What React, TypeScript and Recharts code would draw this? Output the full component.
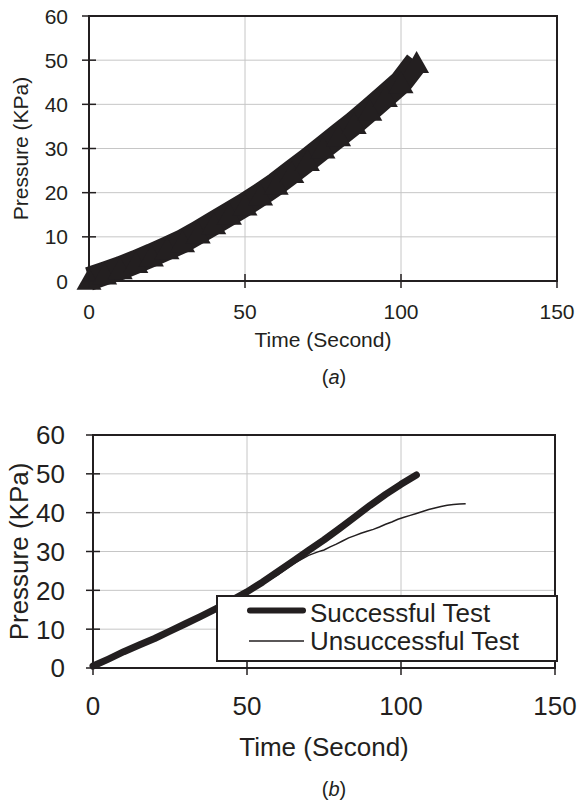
import React from 'react';
import { LineChart, Line, XAxis, YAxis, CartesianGrid, ReferenceArea, Legend, Label } from 'recharts';

const INK = '#231f20';
const GRID = '#c6c6c6';
const FONT = '"Liberation Sans", Arial, Helvetica, sans-serif';

// shared axes
const xTicks = [0, 50, 100, 150];
const yTicks = [0, 10, 20, 30, 40, 50, 60];
const xTitle = 'Time (Second)';
const yTitle = 'Pressure (KPa)';
const captions = ['a', 'b'];

// chart (a): pressure vs time, triangle markers
const timeA = [0, 5, 10, 15, 20, 25, 30, 35, 40, 45, 50, 55, 60, 65, 70, 75, 80, 85, 90, 95, 100, 105];
const pressureA = [0.5, 1.7, 2.9, 4.3, 5.8, 7.4, 9.0, 11.0, 13.1, 15.2, 17.3, 19.6, 22.0, 24.7, 27.4, 30.2, 33.0, 35.8, 38.8, 41.9, 45.0, 49.6];

// chart (b): successful test
const timeSuccess = [0, 5, 10, 15, 20, 25, 30, 35, 40, 45, 50, 55, 60, 65, 70, 75, 80, 85, 90, 95, 100, 105];
const pressureSuccess = [0.5, 2.3, 4.2, 5.9, 7.6, 9.5, 11.4, 13.3, 15.3, 17.4, 19.6, 22.1, 24.8, 27.5, 30.3, 33.0, 35.9, 38.9, 41.9, 44.7, 47.3, 49.7];

// chart (b): unsuccessful test
const timeFail = [0, 5, 10, 15, 20, 25, 30, 35, 40, 45, 50, 55, 60, 65, 70, 73, 75, 77, 79, 81, 83, 85, 87, 89, 91, 93, 95, 97, 99, 101, 103, 105, 107, 109, 111, 113, 115, 117, 119, 121];
const pressureFail = [0.3, 1.9, 3.8, 5.5, 7.3, 9.1, 11.0, 12.9, 14.9, 17.0, 19.2, 21.6, 24.0, 26.8, 29.0, 29.9, 30.4, 31.2, 31.9, 32.7, 33.5, 34.1, 34.7, 35.2, 35.7, 36.3, 37.0, 37.6, 38.3, 38.8, 39.3, 39.8, 40.3, 40.8, 41.2, 41.6, 41.9, 42.1, 42.2, 42.3];

const seriesNames = ['Successful Test', 'Unsuccessful Test'];

const dataA = timeA.map((t, i) => ({ t, p: pressureA[i] }));
const dataSuccess = timeSuccess.map((t, i) => ({ t, p: pressureSuccess[i] }));
const dataFail = timeFail.map((t, i) => ({ t, p: pressureFail[i] }));

const TICK = 7;

const makeYTick = (margin: number, fontSize: number) => (props: any) => {
  const { x, y, payload } = props;
  const ax = x + TICK + margin;
  return (
    <g>
      <line x1={ax - TICK} x2={ax + TICK} y1={y} y2={y} stroke={INK} strokeWidth={1.5} />
      <text x={x} y={y} dy="0.36em" textAnchor="end" fontSize={fontSize} fontFamily={FONT} fill={INK}>
        {payload.value}
      </text>
    </g>
  );
};

const makeXTick = (margin: number, fontSize: number) => (props: any) => {
  const { x, y, payload } = props;
  const ay = y - TICK - margin;
  return (
    <g>
      <line x1={x} x2={x} y1={ay - TICK} y2={ay + TICK} stroke={INK} strokeWidth={1.5} />
      <text x={x} y={y} dy="0.72em" textAnchor="middle" fontSize={fontSize} fontFamily={FONT} fill={INK}>
        {payload.value}
      </text>
    </g>
  );
};

const makeYLabel = (bx: number, fontSize: number) => (props: any) => {
  const vb = props.viewBox || { x: 0, y: 0, width: 0, height: 0 };
  const cy = vb.y + vb.height / 2;
  return (
    <text
      x={bx}
      y={cy}
      transform={`rotate(-90 ${bx} ${cy})`}
      textAnchor="middle"
      fontSize={fontSize}
      fontFamily={FONT}
      fill={INK}
    >
      {yTitle}
    </text>
  );
};

const makeXLabel = (dist: number, fontSize: number) => (props: any) => {
  const vb = props.viewBox || { x: 0, y: 0, width: 0, height: 0 };
  return (
    <text x={vb.x + vb.width / 2} y={vb.y + dist} textAnchor="middle" fontSize={fontSize} fontFamily={FONT} fill={INK}>
      {xTitle}
    </text>
  );
};

const TriangleDot = (props: any) => {
  const { cx, cy } = props;
  if (cx == null || cy == null) return <g />;
  const w = 25;
  const h = 22;
  return (
    <polygon
      points={`${cx},${cy - h / 2} ${cx - w / 2},${cy + h / 2} ${cx + w / 2},${cy + h / 2}`}
      fill={INK}
      stroke="none"
    />
  );
};

const LegendBox = () => (
  <svg width={342} height={67} style={{ display: 'block' }}>
    <rect x={1} y={1} width={340} height={65} fill="#ffffff" stroke={INK} strokeWidth={2} />
    <line x1={34} x2={87} y1={15.5} y2={15.5} stroke={INK} strokeWidth={6} strokeLinecap="round" />
    <text x={94} y={27} fontSize={26} fontFamily={FONT} fill={INK}>
      {seriesNames[0]}
    </text>
    <line x1={33} x2={88} y1={46} y2={46} stroke={INK} strokeWidth={1.5} />
    <text x={94} y={55} fontSize={26} fontFamily={FONT} fill={INK}>
      {seriesNames[1]}
    </text>
  </svg>
);

export default function App() {
  return (
    <div style={{ position: 'absolute', left: 0, top: 0, width: 577, height: 804, background: '#fff' }}>
      <div style={{ position: 'absolute', left: 0, top: 0 }}>
        <LineChart width={577} height={400} margin={{ top: 16, right: 20, bottom: 49, left: 0 }}>
          <CartesianGrid stroke={GRID} strokeWidth={1} />
          <XAxis
            dataKey="t"
            type="number"
            domain={[0, 150]}
            ticks={xTicks}
            height={70}
            tickSize={TICK}
            tickMargin={16}
            tickLine={false}
            axisLine={{ stroke: INK, strokeWidth: 2 }}
            tick={makeXTick(16, 21)}
            interval={0}
          >
            <Label content={makeXLabel(66, 21)} />
          </XAxis>
          <YAxis
            type="number"
            domain={[0, 60]}
            ticks={yTicks}
            width={89}
            tickSize={TICK}
            tickMargin={14}
            tickLine={false}
            axisLine={{ stroke: INK, strokeWidth: 2 }}
            tick={makeYTick(14, 21)}
            interval={0}
          >
            <Label content={makeYLabel(28, 21)} />
          </YAxis>
          <ReferenceArea x1={0} x2={150} y1={0} y2={60} fill="none" stroke={INK} strokeWidth={2} ifOverflow="visible" />
          <Line
            data={dataA}
            dataKey="p"
            type="linear"
            stroke={INK}
            strokeWidth={24}
            dot={<TriangleDot />}
            activeDot={false}
            isAnimationActive={false}
          />
        </LineChart>
      </div>
      <div style={{ position: 'absolute', left: 0, top: 400 }}>
        <LineChart width={577} height={404} margin={{ top: 35, right: 22, bottom: 36, left: 0 }}>
          <CartesianGrid stroke={GRID} strokeWidth={1} />
          <XAxis
            dataKey="t"
            type="number"
            domain={[0, 150]}
            ticks={xTicks}
            height={100}
            tickSize={TICK}
            tickMargin={21}
            tickLine={false}
            axisLine={{ stroke: INK, strokeWidth: 2 }}
            tick={makeXTick(21, 26)}
            interval={0}
          >
            <Label content={makeXLabel(88, 26)} />
          </XAxis>
          <YAxis
            type="number"
            domain={[0, 60]}
            ticks={yTicks}
            width={93}
            tickSize={TICK}
            tickMargin={21}
            tickLine={false}
            axisLine={{ stroke: INK, strokeWidth: 2 }}
            tick={makeYTick(21, 26)}
            interval={0}
          >
            <Label content={makeYLabel(28, 26)} />
          </YAxis>
          <ReferenceArea x1={0} x2={150} y1={0} y2={60} fill="none" stroke={INK} strokeWidth={2} ifOverflow="visible" />
          <Line
            name={seriesNames[1]}
            data={dataFail}
            dataKey="p"
            type="linear"
            stroke={INK}
            strokeWidth={1.5}
            dot={false}
            activeDot={false}
            isAnimationActive={false}
          />
          <Line
            name={seriesNames[0]}
            data={dataSuccess}
            dataKey="p"
            type="linear"
            stroke={INK}
            strokeWidth={7}
            strokeLinecap="round"
            strokeLinejoin="round"
            dot={false}
            activeDot={false}
            isAnimationActive={false}
          />
          <Legend
            layout="vertical"
            align="center"
            verticalAlign="middle"
            width={342}
            height={67}
            wrapperStyle={{ left: 216, top: 195, width: 342, height: 67 }}
            content={() => <LegendBox />}
          />
        </LineChart>
      </div>
      <svg width={577} height={804} style={{ position: 'absolute', left: 0, top: 0, pointerEvents: 'none' }}>
        <text x={334} y={384} textAnchor="middle" fontSize={20} fontFamily={FONT} fill={INK}>
          (<tspan fontStyle="italic">{captions[0]}</tspan>)
        </text>
        <text x={334} y={796} textAnchor="middle" fontSize={20} fontFamily={FONT} fill={INK}>
          (<tspan fontStyle="italic">{captions[1]}</tspan>)
        </text>
      </svg>
    </div>
  );
}
